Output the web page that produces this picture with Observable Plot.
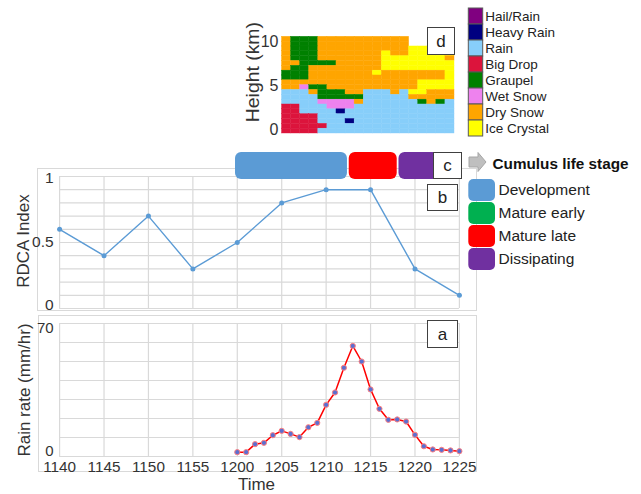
<!DOCTYPE html>
<html><head><meta charset="utf-8">
<script src="https://cdn.jsdelivr.net/npm/d3@7"></script>
<script src="https://cdn.jsdelivr.net/npm/@observablehq/plot@0.6"></script>
<style>
body{margin:0;background:#fff;}
#root{position:relative;width:641px;height:494px;overflow:hidden;font-family:"Liberation Sans",Arial,sans-serif;}
.frame{position:absolute;border:1px solid #d9d9d9;box-sizing:border-box;}
.tag{position:absolute;border:1.3px solid #404040;background:#fff;box-sizing:border-box;display:flex;align-items:center;justify-content:center;font-size:17px;color:#222;line-height:1;}
</style></head><body><div id="root"></div>
<script>
// ---------- data ----------
const timeTicks = ["1140","1145","1150","1155","1200","1205","1210","1215","1220","1225"];
const rdcaTimes = ["1140","1145","1150","1155","1200","1205","1210","1215","1220","1225"];
const rdcaValues = [0.6, 0.4, 0.7, 0.3, 0.5, 0.8, 0.9, 0.9, 0.3, 0.1];
const rdcaGrid = [0,0.1,0.2,0.3,0.4,0.5,0.6,0.7,0.8,0.9,1];
const rdcaTicks = [1, 0.5, 0];
const rdcaTickLabels = ["1","0.5","0"];

const rainTimes = ["1200","1201","1202","1203","1204","1205","1206","1207","1208","1209","1210","1211","1212",
  "1213","1214","1215","1216","1217","1218","1219","1220","1221","1222","1223","1224","1225"];
const rainValues = [2.3, 2.3, 6.5, 7.2, 11.2, 13.5, 11.9, 10.2, 15.4, 17.7, 27.2, 33.7, 46.7,
  58.2, 50.0, 35.3, 25.1, 19.3, 19.5, 18.4, 11.4, 5.4, 3.7, 3.5, 3.2, 2.8];
const rainGrid = [0,10,20,30,40,50,60,70];
const rainTicks = [70, 0];

const stageNames = ["Development","Mature early","Mature late","Dissipating"];
const stageColors = ["#5b9bd5","#00b050","#ff0000","#7030a0"];
const barStages = ["Development","Mature late","Dissipating"];
const barStartMin = [719.8, 732.6, 738.2];   // minutes after midnight
const barEndMin   = [732.4, 738.0, 745.0];

const hydroCats = ["Hail/Rain","Heavy Rain","Rain","Big Drop","Graupel","Wet Snow","Dry Snow","Ice Crystal"];
const hydroCodes = ["H","V","R","B","G","W","D","I"];
const hydroColors = ["#800080","#000080","#87cefa","#dc143c","#008000","#ee82ee","#ffa500","#ffff00"];
const hydroGrid = [
  "DGGGDDDDDDDDDD.....",
  "DGGGDDDDDDDDDD.....",
  "DGGGDDDDDDDDDDIIIII",
  "DGGGDDDDDDDIDDIIIII",
  "DGGGDDDDDDDIIIIIIID",
  "DDGGGGDDDDDIIIIIIII",
  "DGGDDDDDDDDIIIIIIII",
  "GGGDDDDDDDIDDDDDDDI",
  "GGGDDDDDDDDDDDDDDDI",
  "DDDDDDDDDDDDDDDIIII",
  "DDWGGDDDDDDDDDDIIII",
  "RRRDGGGDDRRRDRIIDDD",
  "RRRRGGGGGRRRRRDDDDD",
  "RRRRWWWWDRRRRRRGDGR",
  "BBRRRWWWRRRRRRRRRRR",
  "BBRRRRVRRRRRRRRRRRR",
  "BBBBRRRRRRRRRRRRRRR",
  "BBBBRRRVRRRRRRRRRRR",
  "BBBBBRRRRRRRRRRRRRR",
  "BBBBRRRRRRRRRRRRRRR"
];
const heightTicks = [0, 5, 10];
const gridBottomKm = -0.42, gridStepKm = 0.552;

// ---------- helpers ----------
const FONT = '"Liberation Sans", Arial, sans-serif';
const root = document.getElementById("root");
const toMin = s => +s.slice(0,2)*60 + +s.slice(2);
function place(el, left, top){ el.style.position="absolute"; el.style.left=left+"px"; el.style.top=top+"px"; root.appendChild(el); }
function frameBox(l,t,w,h){ const d=document.createElement("div"); d.className="frame"; d.style.left=l+"px"; d.style.top=t+"px"; d.style.width=w+"px"; d.style.height=h+"px"; root.appendChild(d); }
function tag(txt,l,t,w,h){ const d=document.createElement("div"); d.className="tag"; d.textContent=txt; d.style.left=l+"px"; d.style.top=t+"px"; d.style.width=w+"px"; d.style.height=h+"px"; root.appendChild(d); }
const baseStyle = {background:"transparent", fontFamily: FONT, color:"#333", overflow:"visible"};
const X0 = 59.1, X1 = 458.9, W = 641;
const xScale = {domain:[700, 745], axis:null};

// panel frames
frameBox(37, 168, 440, 143);
frameBox(38, 315, 439, 157);

// ---------- panel d: hydrometeor classes ----------
const cells = [];
hydroGrid.forEach((row, r) => [...row].forEach((ch, c) => {
  if (ch !== ".") cells.push({c, level: hydroGrid.length - 1 - r, cat: hydroCats[hydroCodes.indexOf(ch)]});
}));
const pd = Plot.plot({
  width: 235, height: 145, marginLeft: 51.5, marginRight: 11, marginTop: 36.3, marginBottom: 12,
  style: baseStyle,
  x: {domain: [0, 19], axis: null},
  y: {domain: [gridBottomKm, gridBottomKm + hydroGrid.length*gridStepKm], axis: null},
  color: {domain: hydroCats, range: hydroColors},
  marks: [
    Plot.rect(cells, {x1: "c", x2: d => d.c + 1, y1: d => gridBottomKm + d.level*gridStepKm,
      y2: d => gridBottomKm + (d.level+1)*gridStepKm, fill: "cat", stroke: "cat", strokeWidth: 0.4}),
    Plot.text(heightTicks, {y: d => d, text: d => String(d), frameAnchor: "left", dx: -3.5, textAnchor: "end", lineAnchor: "middle", fontSize: 16}),
    Plot.text(["Height (km)"], {text: d => d, frameAnchor: "left", dx: -28.5, dy: -13, rotate: -90,
      textAnchor: "middle", lineAnchor: "middle", fontSize: 18})
  ]
});
place(pd, 230, 0);
d3.select(pd).selectAll("text").filter(function(){ return this.textContent === "Height (km)"; })
  .attr("textLength", 100).attr("lengthAdjust", "spacingAndGlyphs");

// legend for panel d
const pdl = Plot.plot({
  width: 176, height: 145, marginLeft: 3.3, marginRight: 176 - 17.7, marginTop: 8.3, marginBottom: 145 - 136.7,
  style: baseStyle,
  x: {domain: [0, 1], axis: null},
  y: {domain: hydroCats, axis: null, padding: 0},
  color: {domain: hydroCats, range: hydroColors},
  marks: [
    Plot.barX(hydroCats, {x1: 0, x2: 1, y: d => d, fill: d => d, stroke: "#595959", strokeWidth: 1, inset: 0}),
    Plot.text(hydroCats, {x: 1, y: d => d, text: d => d, textAnchor: "start", dx: 2, fontSize: 13.5, fill: "#222"})
  ]
});
place(pdl, 465, 0);

// ---------- panel b: RDCA index ----------
const rdca = rdcaTimes.map((t,i) => ({t: toMin(t), v: rdcaValues[i]}));
const pb = Plot.plot({
  width: W, height: 170, marginLeft: X0, marginRight: W - X1, marginTop: 31, marginBottom: 7,
  style: baseStyle,
  x: xScale,
  y: {domain: [0, 1], axis: null},
  marks: [
    Plot.ruleY(rdcaGrid, {stroke: "#d9d9d9", strokeWidth: 1.2}),
    Plot.ruleX(timeTicks.map(toMin), {stroke: "#d9d9d9", strokeWidth: 1.2}),
    Plot.line(rdca, {x: "t", y: "v", stroke: "#5b9bd5", strokeWidth: 1.4}),
    Plot.dot(rdca, {x: "t", y: "v", r: 2.5, fill: "#5b9bd5"}),
    ...rdcaTicks.map((v,i) => Plot.text([v], {y: d => d, text: () => rdcaTickLabels[i], frameAnchor: "left",
      dx: -6, textAnchor: "end", lineAnchor: "middle", fontSize: 15.5, dy: i === 0 ? 2 : (i === 2 ? -3 : 0)})),
    Plot.text(["RDCA Index"], {text: d => d, frameAnchor: "left", dx: -36, dy: -1.5, rotate: -90,
      textAnchor: "middle", lineAnchor: "middle", fontSize: 17})
  ]
});
place(pb, 0, 145);

// stage bar (c)
const ps = Plot.plot({
  width: W, height: 36, marginLeft: X0, marginRight: W - X1, marginTop: 4, marginBottom: 5,
  style: baseStyle,
  x: xScale,
  y: {domain: [0, 1], axis: null},
  color: {domain: stageNames, range: stageColors},
  marks: [
    Plot.rect(barStages, {x1: (d,i) => barStartMin[i], x2: (d,i) => barEndMin[i], y1: 0, y2: 1, fill: d => d, rx: 6})
  ]
});
place(ps, 0, 148);

// stage legend
const psl = Plot.plot({
  width: 181, height: 135, marginLeft: 8.3, marginRight: 181 - 35, marginTop: 30.7, marginBottom: 8,
  style: baseStyle,
  x: {domain: [0, 1], axis: null},
  y: {domain: stageNames, axis: null, padding: 0.06},
  color: {domain: stageNames, range: stageColors},
  marks: [
    Plot.barX(stageNames, {x1: 0, x2: 1, y: d => d, fill: d => d, rx: 5}),
    Plot.text(stageNames, {x: 1, y: d => d, text: d => d, textAnchor: "start", dx: 3, fontSize: 15.5, fill: "#222"}),
    Plot.text(["Cumulus life stage"], {text: d => d, frameAnchor: "top-left", dx: 23.7, dy: -11.7,
      textAnchor: "start", lineAnchor: "middle", fontSize: 15.3, fontWeight: "bold", fill: "#111"})
  ]
});
d3.select(psl).append("polygon")
  .attr("points", "9,12 18,12 18,7.5 26,17 18,26.5 18,22 9,22")
  .attr("fill", "#bfbfbf").attr("stroke", "#a6a6a6").attr("stroke-width", 1);
place(psl, 460, 145);

// ---------- panel a: rain rate ----------
const rain = rainTimes.map((t,i) => ({t: toMin(t), v: rainValues[i]}));
const pa = Plot.plot({
  width: W, height: 184, marginLeft: X0, marginRight: W - X1, marginTop: 13, marginBottom: 38,
  style: baseStyle,
  x: xScale,
  y: {domain: [0, 70], axis: null},
  marks: [
    Plot.ruleY(rainGrid, {stroke: "#d9d9d9", strokeWidth: 1.2}),
    Plot.ruleX(timeTicks.map(toMin), {stroke: "#d9d9d9", strokeWidth: 1.2}),
    Plot.line(rain, {x: "t", y: "v", stroke: "#ff0000", strokeWidth: 1.5}),
    Plot.dot(rain, {x: "t", y: "v", r: 2.6, fill: "#5b6fd0", stroke: "#ff8080", strokeWidth: 1}),
    ...rainTicks.map((v,i) => Plot.text([v], {y: d => d, text: d => String(d), frameAnchor: "left",
      dx: -6, textAnchor: "end", lineAnchor: "middle", fontSize: 15, dy: i === 0 ? 5 : -5.5})),
    Plot.text(timeTicks, {x: toMin, text: d => d, frameAnchor: "bottom", lineAnchor: "middle", dy: 10.5, fontSize: 15.3}),
    Plot.text(["Time"], {text: d => d, frameAnchor: "bottom", lineAnchor: "middle", dx: -3, dy: 28.5, fontSize: 17}),
    Plot.text(["Rain rate (mm/hr)"], {text: d => d, frameAnchor: "left", dx: -35, rotate: -90,
      textAnchor: "middle", lineAnchor: "middle", fontSize: 17})
  ]
});
place(pa, 0, 310);

// ---------- panel tags ----------
tag("d", 427, 27, 28, 28);
tag("c", 433, 152, 29, 27);
tag("b", 427, 184, 31, 27);
tag("a", 427, 320, 31, 28);
</script></body></html>
